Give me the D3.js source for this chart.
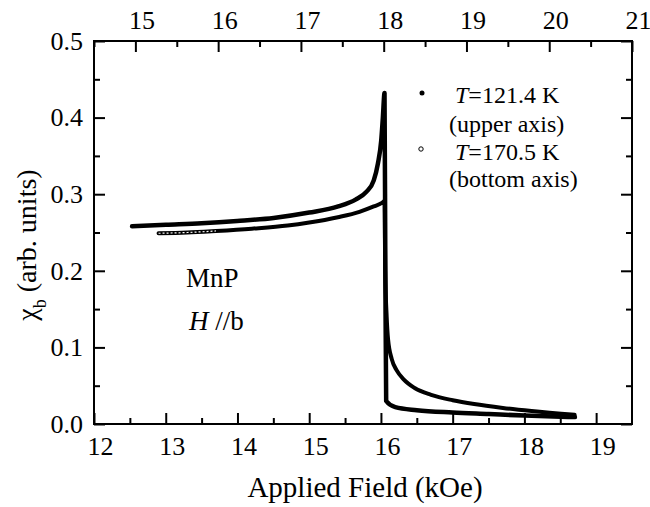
<!DOCTYPE html>
<html>
<head>
<meta charset="utf-8">
<script src="https://cdn.jsdelivr.net/npm/d3@7"></script>
<style>
  body { margin: 0; background: #fff; }
  svg text { font-family: "Liberation Serif", "Times New Roman", serif; fill: #000; }
</style>
</head>
<body>
<svg id="chart" width="650" height="507"></svg>
<script>
// T = 121.4 K, read against the upper axis (kOe)
const upperField = [14.96, 15.37, 15.80, 16.23, 16.67, 17.10, 17.45, 17.66, 17.79, 17.88, 17.93, 17.97, 17.99, 18.01, 18.02, 18.03, 18.14, 18.40, 18.83, 19.27, 19.70, 20.31];
const upperChi   = [0.258, 0.260, 0.262, 0.265, 0.269, 0.276, 0.284, 0.293, 0.303, 0.318, 0.340, 0.370, 0.400, 0.432, 0.200, 0.030, 0.022, 0.018, 0.015, 0.013, 0.011, 0.009];

// T = 170.5 K, read against the bottom axis (kOe)
const bottomField = [12.9, 13.3, 13.7, 14.2, 14.7, 15.0, 15.4, 15.7, 15.9, 16.02, 16.05, 16.06, 16.08, 16.1, 16.15, 16.22, 16.32, 16.47, 16.7, 17.0, 17.3, 17.7, 18.1, 18.7];
const bottomChi   = [0.249, 0.250, 0.252, 0.255, 0.259, 0.263, 0.270, 0.277, 0.284, 0.289, 0.291, 0.200, 0.140, 0.110, 0.085, 0.070, 0.058, 0.047, 0.038, 0.031, 0.026, 0.021, 0.017, 0.012];

const bottomTicks = [12, 13, 14, 15, 16, 17, 18, 19];
const topTicks = [15, 16, 17, 18, 19, 20, 21];
const chiTicks = [0, 0.1, 0.2, 0.3, 0.4, 0.5];

const mLeft = 94, mRight = 632, mTop = 41, mBottom = 424;
const svg = d3.select("#chart");

const xBottom = d3.scaleLinear().domain([12, 19.5]).range([mLeft, mRight]);
const xTop = d3.scaleLinear().domain([14.5, 21]).range([mLeft, mRight]);
const y = d3.scaleLinear().domain([0, 0.5]).range([mBottom, mTop]);

const minors = (ticks, step) => ticks.map(t => t + step);

// minor ticks first, all pointing inward
svg.append("g").attr("transform", `translate(0,${mBottom})`)
    .call(d3.axisBottom(xBottom).tickValues(minors(bottomTicks, 0.5).filter(v => v < 19.5)).tickSize(-6).tickFormat(""));
svg.append("g").attr("transform", `translate(0,${mTop})`)
    .call(d3.axisTop(xTop).tickValues(minors([14].concat(topTicks), 0.5).filter(v => v < 21)).tickSize(-6).tickFormat(""));
svg.append("g").attr("transform", `translate(${mLeft},0)`)
    .call(d3.axisLeft(y).tickValues(minors(chiTicks, 0.05).filter(v => v < 0.5)).tickSize(-6).tickFormat(""));
svg.append("g").attr("transform", `translate(${mRight},0)`)
    .call(d3.axisRight(y).tickValues(minors(chiTicks, 0.05).filter(v => v < 0.5)).tickSize(-6).tickFormat(""));

// major ticks with labels
const gB = svg.append("g").attr("transform", `translate(0,${mBottom})`)
    .call(d3.axisBottom(xBottom).tickValues(bottomTicks).tickSize(-11).tickPadding(13).tickFormat(d3.format("d")));
const gT = svg.append("g").attr("transform", `translate(0,${mTop})`)
    .call(d3.axisTop(xTop).tickValues(topTicks).tickSize(-11).tickPadding(12).tickFormat(d3.format("d")));
const gL = svg.append("g").attr("transform", `translate(${mLeft},0)`)
    .call(d3.axisLeft(y).tickValues(chiTicks).tickSize(-11).tickPadding(11).tickFormat(d3.format(".1f")));
svg.append("g").attr("transform", `translate(${mRight},0)`)
    .call(d3.axisRight(y).tickValues(chiTicks).tickSize(-11).tickFormat(""));

svg.selectAll(".domain").remove();
svg.selectAll(".tick line").attr("stroke", "#000").attr("stroke-width", 2);
svg.selectAll(".tick text").style("font-size", "26px");
gB.selectAll(".tick text").attr("dx", 6);
gT.selectAll(".tick text").attr("dx", 6);

// frame
svg.append("rect")
    .attr("x", mLeft).attr("y", mTop)
    .attr("width", mRight - mLeft).attr("height", mBottom - mTop)
    .attr("fill", "none").attr("stroke", "#000").attr("stroke-width", 2);

// data
const upperData = upperField.map((f, i) => [f, upperChi[i]]);
const bottomData = bottomField.map((f, i) => [f, bottomChi[i]]);
const lineBottom = d3.line().x(d => xBottom(d[0])).y(d => y(d[1])).curve(d3.curveMonotoneX);
const lineTop = d3.line().x(d => xTop(d[0])).y(d => y(d[1])).curve(d3.curveMonotoneX);

svg.append("path")
    .datum(bottomData)
    .attr("d", lineBottom)
    .attr("fill", "none").attr("stroke", "#000").attr("stroke-width", 4)
    .attr("stroke-linecap", "round").attr("stroke-linejoin", "round");

// open-circle look where the 170.5 K points are still separate
svg.append("path")
    .datum(bottomData.filter(d => d[0] <= 13.7))
    .attr("d", lineBottom)
    .attr("fill", "none").attr("stroke", "#fff").attr("stroke-width", 1.2)
    .attr("stroke-dasharray", "2,2");

svg.append("path")
    .datum(upperData)
    .attr("d", lineTop)
    .attr("fill", "none").attr("stroke", "#000").attr("stroke-width", 4.5)
    .attr("stroke-linecap", "round").attr("stroke-linejoin", "round");

// legend
svg.append("circle").attr("cx", 422).attr("cy", 93).attr("r", 2.5).attr("fill", "#000");
svg.append("circle").attr("cx", 421).attr("cy", 149).attr("r", 2.2)
    .attr("fill", "#fff").attr("stroke", "#000").attr("stroke-width", 1);

const leg1 = svg.append("text").attr("x", 455).attr("y", 103).style("font-size", "24px");
leg1.append("tspan").style("font-style", "italic").text("T");
leg1.append("tspan").text("=121.4 K");
svg.append("text").attr("x", 449).attr("y", 132).style("font-size", "24px").text("(upper axis)");
const leg2 = svg.append("text").attr("x", 455).attr("y", 160).style("font-size", "24px");
leg2.append("tspan").style("font-style", "italic").text("T");
leg2.append("tspan").text("=170.5 K");
svg.append("text").attr("x", 449).attr("y", 187).style("font-size", "24px").text("(bottom axis)");

// sample annotation
svg.append("text").attr("x", 186).attr("y", 287).style("font-size", "27px").text("MnP");
const ann = svg.append("text").attr("x", 189).attr("y", 330).style("font-size", "27px");
ann.append("tspan").style("font-style", "italic").text("H");
ann.append("tspan").text(" //b");

// axis titles
svg.append("text")
    .attr("x", (mLeft + mRight) / 2 + 2).attr("y", 497)
    .attr("text-anchor", "middle").style("font-size", "29px")
    .text("Applied Field (kOe)");

const yt = svg.append("text")
    .attr("transform", `translate(36,245) rotate(-90)`)
    .attr("text-anchor", "middle").style("font-size", "28px");
yt.append("tspan").text("χ");
yt.append("tspan").attr("baseline-shift", "sub").style("font-size", "18px").text("b");
yt.append("tspan").text(" (arb. units)");
</script>
</body>
</html>
